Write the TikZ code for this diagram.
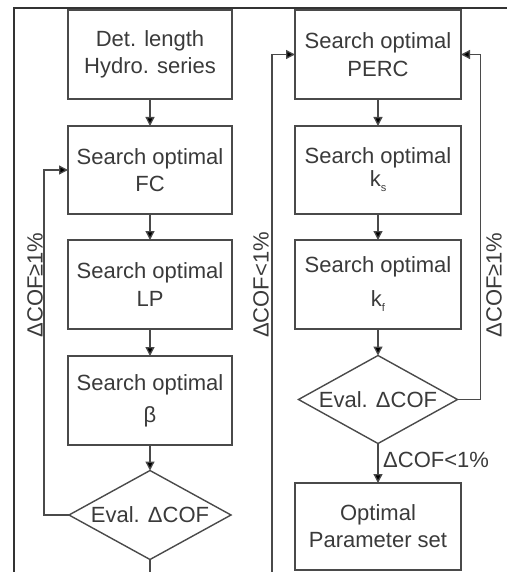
\documentclass[tikz,border=0pt]{standalone}
\usepackage{fontspec}
\setmainfont{Liberation Sans}
\usetikzlibrary{shapes.geometric,arrows.meta}
\definecolor{ln}{HTML}{4A4A4A}
\definecolor{tx}{HTML}{3A3A3A}
\definecolor{fr}{HTML}{333333}
\tikzset{
  box/.style={draw=ln, line width=1.4pt, rectangle, minimum width=164pt, minimum height=88pt,
    inner sep=0pt, outer sep=0pt, align=center, text=tx, font=\fontsize{22}{27}\selectfont},
  dia/.style={draw=ln, line width=1.4pt, diamond, aspect=1.8, inner sep=0pt, outer sep=0pt,
    text=tx, font=\fontsize{22}{27}\selectfont},
  arr/.style={draw=ln, line width=1.3pt, -{Triangle[length=9pt,width=9pt,fill=black]}},
  conn/.style={draw=ln, line width=1.3pt},
  lbl/.style={text=tx, font=\fontsize{22}{27}\selectfont, inner sep=0pt},
}
\newcommand{\subsm}[1]{\raisebox{-5pt}{\fontsize{11}{11}\selectfont #1}}
\begin{document}
\begin{tikzpicture}[x=1pt,y=-1pt]
\useasboundingbox (0,0) rectangle (507,572);
% frame
\draw[fr, line width=2.6pt] (14,572) -- (14,8) -- (507,8);
% left column
\node[box, minimum height=89pt] (b1) at (150,54.5) {Det. length\\Hydro. series};
\node[box] (fc) at (150,170) {Search optimal\\FC};
\node[box, minimum height=89pt] (lp) at (150,284.5) {Search optimal\\[1pt]LP};
\node[box, minimum height=89pt] (be) at (150,400.5) {Search optimal\\[5pt]β};
\node[dia, minimum width=162pt, minimum height=89pt] (d1) at (150,515) {Eval. ΔCOF};
\coordinate (bl) at (150,574);
% right column
\node[box, minimum width=166pt, minimum height=89pt] (pe) at (378,54.5) {Search optimal\\[1pt]PERC};
\node[box, minimum width=166pt] (ks) at (378,170) {Search optimal\\[-4pt]k\subsm{s}};
\node[box, minimum width=166pt, minimum height=89pt] (kf) at (378,284.5) {Search optimal\\[7pt]k\subsm{f}};
\node[dia, minimum width=159pt, minimum height=88pt] (d2) at (378,399.5) {Eval. ΔCOF};
\node[box, minimum width=166pt, minimum height=87pt] (op) at (378,526.5) {Optimal\\Parameter set};
\coordinate (br) at (272,574);
% connectors left
\draw[arr] (b1.south) -- (fc.north);
\draw[arr] (fc.south) -- (lp.north);
\draw[arr] (lp.south) -- (be.north);
\draw[arr] (be.south) -- (d1.north);
\draw[arr] (d1.west) -- ++(-25,0) |- (fc.west);
\draw[conn] (d1.south) -- (bl);
% connectors right
\draw[arr] (pe.south) -- (ks.north);
\draw[arr] (ks.south) -- (kf.north);
\draw[arr] (kf.south) -- (d2.north);
\draw[arr] (d2.east) -- ++(23,0) |- (pe.east);
\draw[arr] (br) |- (pe.west);
\draw[arr] (d2.south) -- (op.north);
% labels
\node[lbl, rotate=90] (l1) at (35,285) {ΔCOF≥1\%};
\node[lbl, rotate=90] (l2) at (261,285) {ΔCOF<1\%};
\node[lbl, rotate=90] (l3) at (494,285) {ΔCOF≥1\%};
\node[lbl, anchor=base west] (l4) at (383,467) {ΔCOF<1\%};
\end{tikzpicture}
\end{document}
